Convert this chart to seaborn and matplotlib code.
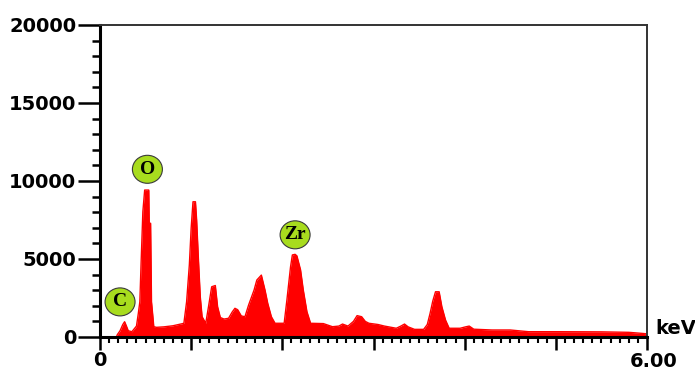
import matplotlib
matplotlib.use("Agg")
import matplotlib.pyplot as plt
import matplotlib.transforms as mtrans
from matplotlib.patches import Ellipse
from matplotlib.ticker import MultipleLocator
import seaborn as sns
import pandas as pd

energy_kev = [0.00, 0.18, 0.19, 0.22, 0.25, 0.27, 0.29, 0.31, 0.35, 0.40, 0.42, 0.437, 0.45, 0.47,
              0.49, 0.535, 0.54, 0.555, 0.565, 0.585, 0.59, 0.62, 0.70, 0.80, 0.90, 0.92, 0.95, 0.98,
              1.00, 1.02, 1.047, 1.06, 1.08, 1.10, 1.12, 1.16, 1.19, 1.225, 1.265, 1.29, 1.32, 1.36,
              1.41, 1.45, 1.48, 1.51, 1.55, 1.59, 1.63, 1.69, 1.72, 1.77, 1.81, 1.84, 1.88, 1.92,
              2.02, 2.05, 2.09, 2.11, 2.14, 2.16, 2.20, 2.23, 2.27, 2.31, 2.45, 2.55, 2.62, 2.66,
              2.72, 2.78, 2.82, 2.87, 2.91, 2.95, 3.05, 3.12, 3.25, 3.30, 3.34, 3.38, 3.45, 3.55,
              3.59, 3.62, 3.65, 3.68, 3.72, 3.75, 3.79, 3.83, 3.95, 4.01, 4.05, 4.10, 4.30, 4.50,
              4.70, 5.00, 5.50, 5.80, 5.95, 6.00]
counts = [0, 0, 150, 400, 800, 980, 700, 400, 340, 700, 1500, 2260, 4620, 8030,
          9420, 9420, 7290, 7290, 2260, 1000, 660, 620, 650, 720, 850, 880, 2260, 4620,
          6990, 8670, 8670, 7500, 4940, 2580, 1300, 880, 1940, 3220, 3300, 1940, 1250, 1150,
          1200, 1600, 1840, 1750, 1350, 1300, 2050, 3010, 3650, 3970, 3010, 2160, 1300, 880,
          880, 2370, 4500, 5260, 5300, 5200, 4300, 3010, 1620, 880, 860, 660, 700, 830,
          700, 1000, 1370, 1300, 1000, 880, 800, 700, 560, 700, 830, 650, 490, 490,
          800, 1500, 2300, 2900, 2900, 1940, 1090, 560, 560, 650, 700, 500, 450, 450,
          340, 340, 330, 300, 230, 200]

peak_labels = ["C", "O", "Zr"]
peak_x = [0.22, 0.52, 2.14]
peak_y = [2250, 10750, 6550]

y_ticks = [0, 5000, 10000, 15000, 20000]
x_tick_labels = ["0", "", "", "", "", "", "6.00"]

df = pd.DataFrame({"energy": energy_kev, "counts": counts})

sns.set_style("white")
plt.rcParams["font.family"] = ["DejaVu Sans"]

fig = plt.figure(figsize=(6.95, 3.70), dpi=100)
ax = fig.add_axes([100 / 695, 1 - 337 / 370, 547 / 695, 312 / 370])

ax.fill_between(df["energy"], 0, df["counts"], color="#ff0000", linewidth=0, zorder=2)
sns.lineplot(data=df, x="energy", y="counts", ax=ax, color="#ff0000", linewidth=1.0, zorder=2)

ax.set_xlim(0, 6)
ax.set_ylim(0, 20000)
ax.set_xlabel("")
ax.set_ylabel("")

ax.set_yticks(y_ticks)
ax.set_yticklabels([str(v) for v in y_ticks], fontsize=14, fontweight="bold")
ax.yaxis.set_minor_locator(MultipleLocator(1000))
ax.set_xticks(range(7))
ax.set_xticklabels(x_tick_labels, fontsize=14, fontweight="bold")
ax.xaxis.set_minor_locator(MultipleLocator(0.1))

ax.tick_params(axis="y", which="major", direction="out", length=16, width=1.8, pad=1, colors="black")
ax.tick_params(axis="y", which="minor", direction="out", length=6, width=1.8, colors="black")
ax.tick_params(axis="x", which="major", direction="out", length=9, width=1.8, pad=1, colors="black")
ax.tick_params(axis="x", which="minor", direction="out", length=4, width=1.5, colors="black")
ax.tick_params(left=True, bottom=True, which="both")

for lab in ax.get_xticklabels():
    if lab.get_text() == "6.00":
        lab.set_transform(lab.get_transform() + mtrans.ScaledTranslation(7 / 100, -1 / 100, fig.dpi_scale_trans))

for side in ["left", "bottom"]:
    ax.spines[side].set_linewidth(2.2)
    ax.spines[side].set_color("black")
for side in ["top", "right"]:
    ax.spines[side].set_visible(True)
    ax.spines[side].set_linewidth(1.4)
    ax.spines[side].set_color("#333333")

ax.text(1.0 + 8 / 547, 9 / 312, "keV", transform=ax.transAxes, ha="left", va="center",
        fontsize=14, fontweight="bold", color="black")

for lab, px, py in zip(peak_labels, peak_x, peak_y):
    ell = Ellipse((px, py), width=30 / 91.2, height=28 * 64.1, facecolor="#a8dc1e",
                  edgecolor="#3a3a3a", linewidth=0.8, zorder=4, clip_on=False)
    ax.add_patch(ell)
    ax.text(px, py, lab, ha="center", va="center", fontsize=14, fontweight="bold",
            family=["Liberation Serif"], color="black", zorder=5)

fig.savefig("out.png", dpi=100)
